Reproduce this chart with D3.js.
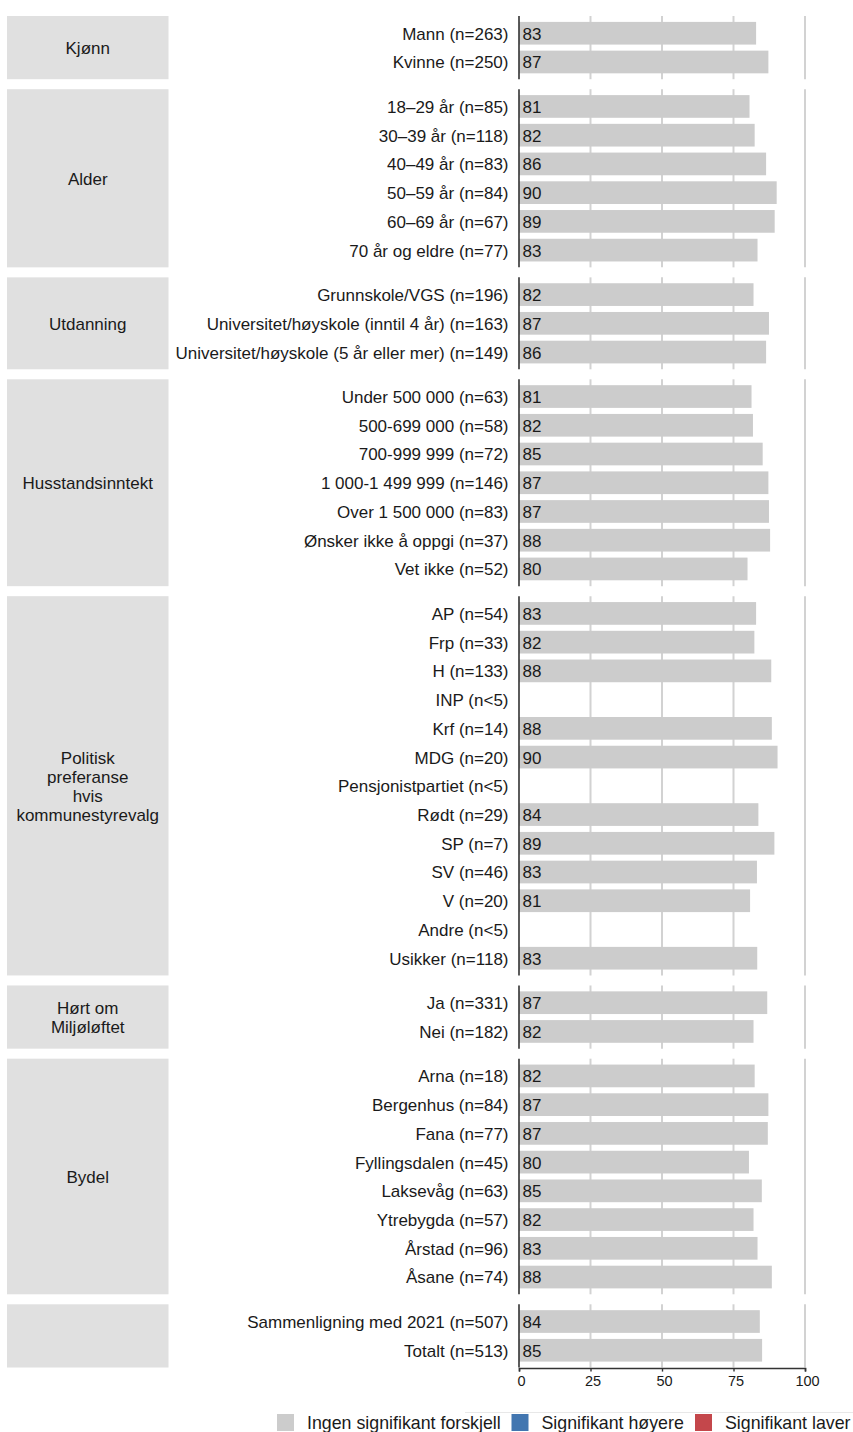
<!DOCTYPE html>
<html>
<head>
<meta charset="utf-8">
<script src="https://cdn.jsdelivr.net/npm/d3@7"></script>
<style>
  html, body { margin: 0; padding: 0; background: #ffffff; }
  svg { display: block; }
  text { font-family: "Liberation Sans", Arial, sans-serif; }
</style>
</head>
<body>
<div id="chart"></div>
<script>
// ---------------- DATA ----------------
const groupLabels = [
  ["Kjønn"],
  ["Alder"],
  ["Utdanning"],
  ["Husstandsinntekt"],
  ["Politisk", "preferanse", "hvis", "kommunestyrevalg"],
  ["Hørt om", "Miljøløftet"],
  ["Bydel"],
  [""]
];

const catKjonn = ["Mann (n=263)", "Kvinne (n=250)"];
const valKjonn = [82.9, 87.2];

const catAlder = ["18–29 år (n=85)", "30–39 år (n=118)", "40–49 år (n=83)", "50–59 år (n=84)", "60–69 år (n=67)", "70 år og eldre (n=77)"];
const valAlder = [80.6, 82.4, 86.4, 90.1, 89.4, 83.4];

const catUtdanning = ["Grunnskole/VGS (n=196)", "Universitet/høyskole (inntil 4 år) (n=163)", "Universitet/høyskole (5 år eller mer) (n=149)"];
const valUtdanning = [82.0, 87.4, 86.4];

const catInntekt = ["Under 500 000 (n=63)", "500-699 000 (n=58)", "700-999 999 (n=72)", "1 000-1 499 999 (n=146)", "Over 1 500 000 (n=83)", "Ønsker ikke å oppgi (n=37)", "Vet ikke (n=52)"];
const valInntekt = [81.3, 81.8, 85.2, 87.2, 87.4, 87.8, 79.9];

const catParti = ["AP (n=54)", "Frp (n=33)", "H (n=133)", "INP (n<5)", "Krf (n=14)", "MDG (n=20)", "Pensjonistpartiet (n<5)", "Rødt (n=29)", "SP (n=7)", "SV (n=46)", "V (n=20)", "Andre (n<5)", "Usikker (n=118)"];
const valParti = [82.9, 82.3, 88.2, null, 88.4, 90.4, null, 83.7, 89.3, 83.2, 80.8, null, 83.3];

const catHort = ["Ja (n=331)", "Nei (n=182)"];
const valHort = [86.8, 82.0];

const catBydel = ["Arna (n=18)", "Bergenhus (n=84)", "Fana (n=77)", "Fyllingsdalen (n=45)", "Laksevåg (n=63)", "Ytrebygda (n=57)", "Årstad (n=96)", "Åsane (n=74)"];
const valBydel = [82.4, 87.2, 87.0, 80.4, 84.9, 82.0, 83.4, 88.4];

const catTotal = ["Sammenligning med 2021 (n=507)", "Totalt (n=513)"];
const valTotal = [84.2, 85.0];

const xTicks = [0, 25, 50, 75, 100];

const legendLabels = ["Ingen signifikant forskjell", "Signifikant høyere", "Signifikant laver"];
const legendColors = ["#cccccc", "#4276b0", "#c4474b"];

const groupCats = [catKjonn, catAlder, catUtdanning, catInntekt, catParti, catHort, catBydel, catTotal];
const groupVals = [valKjonn, valAlder, valUtdanning, valInntekt, valParti, valHort, valBydel, valTotal];

// ---------------- LAYOUT ----------------
const W = 853, H = 1432;
const plotTop = 16, plotBottom = 1367.5;
const gap = 10;
const stripX0 = 7, stripX1 = 168.5;
const axisX = 519, fullX = 805;
const textColor = "#1a1a1a";
const fontSize = 17;
const legendFont = 17.8;

const svg = d3.select("#chart").append("svg")
  .attr("width", W).attr("height", H)
  .attr("viewBox", `0 0 ${W} ${H}`);

const x = d3.scaleLinear().domain([0, 100]).range([axisX, fullX]);

// units per panel: n - 1 + 2*0.6
const units = groupCats.map(c => c.length + 0.2);
const totalUnits = d3.sum(units);
const unit = (plotBottom - plotTop - gap * (groupCats.length - 1)) / totalUnits;

let cursor = plotTop;
groupCats.forEach((cats, gi) => {
  const top = cursor;
  const bottom = top + units[gi] * unit;
  cursor = bottom + gap;

  const y = d3.scalePoint().domain(cats).range([top, bottom]).padding(0.6);
  const barH = y.step() * 0.79;
  const g = svg.append("g");

  // strip
  g.append("rect")
    .attr("x", stripX0).attr("y", top)
    .attr("width", stripX1 - stripX0).attr("height", bottom - top)
    .attr("fill", "#e0e0e0");

  const lines = groupLabels[gi];
  const lh = 19;
  const cy = (top + bottom) / 2;
  lines.forEach((ln, li) => {
    g.append("text")
      .attr("x", (stripX0 + stripX1) / 2)
      .attr("y", cy + (li - (lines.length - 1) / 2) * lh + 0.5)
      .attr("dy", "0.35em")
      .attr("text-anchor", "middle")
      .attr("font-size", fontSize)
      .attr("fill", textColor)
      .text(ln);
  });

  // gridlines
  g.selectAll("line.grid").data(xTicks.filter(t => t > 0)).enter().append("line")
    .attr("x1", d => x(d)).attr("x2", d => x(d))
    .attr("y1", top).attr("y2", bottom)
    .attr("stroke", "#d2d2d2").attr("stroke-width", 2);

  const data = cats.map((c, i) => ({ c, v: groupVals[gi][i] }));

  // bars
  g.selectAll("rect.bar").data(data.filter(d => d.v != null)).enter().append("rect")
    .attr("x", x(0)).attr("y", d => y(d.c) - barH / 2)
    .attr("width", d => x(d.v) - x(0)).attr("height", barH)
    .attr("fill", legendColors[0]);

  // category labels
  g.selectAll("text.cat").data(data).enter().append("text")
    .attr("x", 508.5).attr("y", d => y(d.c) + 0.5)
    .attr("dy", "0.35em")
    .attr("text-anchor", "end")
    .attr("font-size", fontSize)
    .attr("fill", textColor)
    .text(d => d.c);

  // value labels
  g.selectAll("text.val").data(data.filter(d => d.v != null)).enter().append("text")
    .attr("x", x(0) + 3.5).attr("y", d => y(d.c) + 0.5)
    .attr("dy", "0.35em")
    .attr("font-size", fontSize)
    .attr("fill", textColor)
    .text(d => d3.format(".0f")(d.v));

  // y axis line
  g.append("line")
    .attr("x1", axisX).attr("x2", axisX)
    .attr("y1", top).attr("y2", bottom)
    .attr("stroke", "#333333").attr("stroke-width", 1.6);

  // x axis on last panel
  if (gi === groupCats.length - 1) {
    const ax = svg.append("g").attr("transform", `translate(0,${bottom + 0.5})`)
      .call(d3.axisBottom(x).tickValues(xTicks).tickSize(3.6).tickPadding(4.5).tickFormat(d3.format("d")));
    ax.select(".domain").attr("stroke", "#333333").attr("stroke-width", 1.6);
    ax.selectAll(".tick line").attr("stroke", "#333333").attr("stroke-width", 1.4);
    ax.selectAll(".tick text")
      .attr("font-family", "'Liberation Sans', Arial, sans-serif")
      .attr("font-size", 14.5).attr("fill", "#1a1a1a")
      .attr("dx", 2);
  }
});

// ---------------- LEGEND ----------------
svg.append("line")
  .attr("x1", 465).attr("x2", W).attr("y1", 1412.5).attr("y2", 1412.5)
  .attr("stroke", "#e8e8e8").attr("stroke-width", 1);

const legendX = [277, 511.5, 695];
const legY = 1422.5;
const leg = svg.append("g");
legendLabels.forEach((lab, i) => {
  leg.append("rect")
    .attr("x", legendX[i]).attr("y", legY - 8.5)
    .attr("width", 17).attr("height", 17)
    .attr("fill", legendColors[i]);
  leg.append("text")
    .attr("x", legendX[i] + 30).attr("y", legY)
    .attr("dy", "0.35em")
    .attr("font-size", legendFont)
    .attr("fill", textColor)
    .text(lab);
});
</script>
</body>
</html>
